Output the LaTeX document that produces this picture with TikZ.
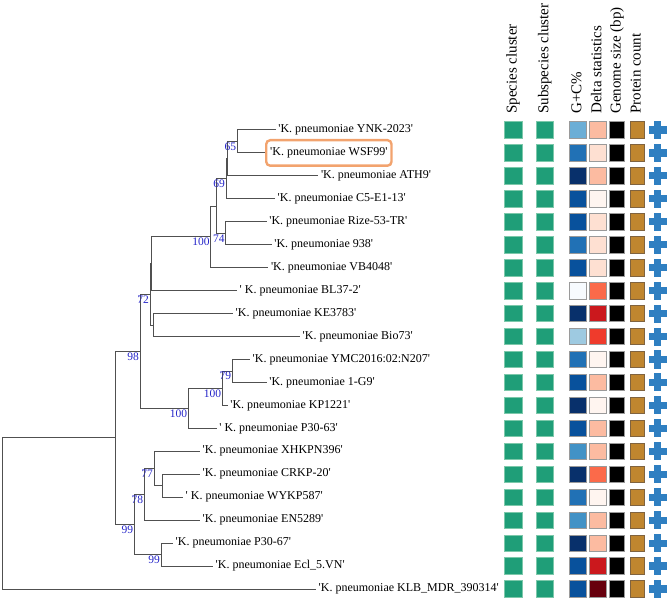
\documentclass[tikz,border=0pt]{standalone}
\usepackage{fontspec}
\setmainfont{Liberation Serif}
\newfontfamily\plainserif{Liberation Serif}
\usepackage{tikz}
\usetikzlibrary{positioning}
\definecolor{branchgray}{HTML}{505050}
\definecolor{bootblue}{HTML}{2323C8}
\definecolor{highlight}{HTML}{F2A36E}
\definecolor{clustergreen}{HTML}{1F9E78}
\definecolor{clusteredge}{HTML}{7CC8AA}
\definecolor{tilegray}{HTML}{9A9A9A}
\definecolor{protein}{HTML}{C0862F}
\definecolor{proteinedge}{HTML}{80633F}
\definecolor{plusblue}{HTML}{2F7FC1}
\definecolor{gcA}{HTML}{F7FBFF}
\definecolor{gcB}{HTML}{9ECAE1}
\definecolor{gcC}{HTML}{6BAED6}
\definecolor{gcD}{HTML}{4292C6}
\definecolor{gcE}{HTML}{2171B5}
\definecolor{gcF}{HTML}{08519C}
\definecolor{gcG}{HTML}{08306B}
\definecolor{dlA}{HTML}{FFF5F0}
\definecolor{dlB}{HTML}{FEE0D2}
\definecolor{dlC}{HTML}{FCBBA1}
\definecolor{dlD}{HTML}{FB6A4A}
\definecolor{dlE}{HTML}{EF3B2C}
\definecolor{dlF}{HTML}{CB181D}
\definecolor{dlG}{HTML}{67000D}
\tikzset{
	every edge/.style={
		draw=branchgray,
		line width=1pt},
	elbow/.style={to path={|- (\tikztotarget)}},
	leaf/.style={
		font=\plainserif\fontsize{12}{14}\selectfont,
		inner xsep=1pt},
	hlbox/.style={
		draw=highlight,
		line width=2.4pt,
		rounded corners=4pt,
		inner xsep=4pt,
		inner ysep=7.5pt},
	support/.style={
		font=\fontsize{11.5}{13}\selectfont,
		text=bootblue,
		inner sep=1pt,
		anchor=north east},
	header/.style={
		font=\fontsize{15}{17}\selectfont,
		rotate=90, anchor=west,
		inner sep=0pt,
		text height=10.5pt, text depth=3.2pt},
	tile/.style={
		minimum width=17.7pt, minimum height=16.5pt,
		inner sep=0pt, line width=0.7pt},
	cluster/.style={tile, fill=clustergreen, draw=clusteredge}
}
\begin{document}
\begin{tikzpicture}[x=1pt, y=-1pt]
\useasboundingbox (0,0) rectangle (669,601);

% leaf ends
\coordinate (ynk)   at (275.7,130);
\coordinate (wsf)   at (265,152.95);
\coordinate (ath)   at (318.3,175.9);
\coordinate (c5)    at (275,198.85);
\coordinate (rize)  at (266.7,221.8);
\coordinate (n938)  at (271.7,244.75);
\coordinate (vb)    at (268.3,267.7);
\coordinate (bl)    at (237,290.65);
\coordinate (ke)    at (233,313.6);
\coordinate (bio)   at (300,336.55);
\coordinate (ymc)   at (250,359.5);
\coordinate (g19)   at (266.7,382.45);
\coordinate (kp)    at (227.7,405.4);
\coordinate (p3063) at (216.7,428.35);
\coordinate (xh)    at (200,451.3);
\coordinate (crkp)  at (200,474.25);
\coordinate (wykp)  at (183,497.2);
\coordinate (en)    at (200,520.15);
\coordinate (p3067) at (173,543.1);
\coordinate (ecl)   at (213,566.05);
\coordinate (klb)   at (316,589);

% inner nodes
\coordinate (n65)   at (237.3,141.5);
\coordinate (nA)    at (227.3,158.7);
\coordinate (n69)   at (226,178.8);
\coordinate (n74)   at (225.7,233.3);
\coordinate (nB)    at (216,206.05);
\coordinate (n100a) at (210.7,236.9);
\coordinate (nC)    at (151.7,263.8);
\coordinate (nD)    at (153.5,325.1);
\coordinate (n72)   at (150,294.45);
\coordinate (n79)   at (232.3,371);
\coordinate (n100c) at (222.3,388.2);
\coordinate (n100b) at (188.3,408.3);
\coordinate (n98)   at (140,351.4);
\coordinate (nE)    at (162.3,485.7);
\coordinate (n77)   at (154,468.5);
\coordinate (n78)   at (144.3,494.3);
\coordinate (n99b)  at (161,554.6);
\coordinate (n99a)  at (134.3,524.45);
\coordinate (nF)    at (115,437.9);
\coordinate (root)  at (2,513.45);

\draw (n65) edge[elbow] (ynk) edge[elbow] (wsf);
\draw (nA) edge[elbow] (n65) edge[elbow] (ath);
\draw (n69) edge[elbow] (nA) edge[elbow] (c5);
\draw (n74) edge[elbow] (rize) edge[elbow] (n938);
\draw (nB) edge[elbow] (n69) edge[elbow] (n74);
\draw (n100a) edge[elbow] (nB) edge[elbow] (vb);
\draw (nC) edge[elbow] (n100a) edge[elbow] (bl);
\draw (nD) edge[elbow] (ke) edge[elbow] (bio);
\draw (n72) edge[elbow] (nC) edge[elbow] (nD);
\draw (n79) edge[elbow] (ymc) edge[elbow] (g19);
\draw (n100c) edge[elbow] (n79) edge[elbow] (kp);
\draw (n100b) edge[elbow] (n100c) edge[elbow] (p3063);
\draw (n98) edge[elbow] (n72) edge[elbow] (n100b);
\draw (nE) edge[elbow] (crkp) edge[elbow] (wykp);
\draw (n77) edge[elbow] (xh) edge[elbow] (nE);
\draw (n78) edge[elbow] (n77) edge[elbow] (en);
\draw (n99b) edge[elbow] (p3067) edge[elbow] (ecl);
\draw (n99a) edge[elbow] (n78) edge[elbow] (n99b);
\draw (nF) edge[elbow] (n98) edge[elbow] (n99a);
\draw (root) edge[elbow] (nF) edge[elbow] (klb);

\node[support] (b65)   at (n65)   {65};
\node[support] (b69)   at (n69)   {69};
\node[support] (b74)   at (n74)   {74};
\node[support] (b100a) at (n100a) {100};
\node[support] (b72)   at (n72)   {72};
\node[support] (b98)   at (n98)   {98};
\node[support] (b79)   at (n79)   {79};
\node[support] (b100c) at (n100c) {100};
\node[support] (b100b) at (n100b) {100};
\node[support] (b77)   at (n77)   {77};
\node[support] (b78)   at (n78)   {78};
\node[support] (b99a)  at (n99a)  {99};
\node[support] (b99b)  at (n99b)  {99};

\node[leaf, right=1.5pt of ynk]   (lynk)   {'K. pneumoniae YNK-2023'};
\node[leaf, hlbox, right=0pt of wsf] (lwsf) {'K. pneumoniae WSF99'};
\node[leaf, right=1.5pt of ath]   (lath)   {'K. pneumoniae ATH9'};
\node[leaf, right=1.5pt of c5]    (lc5)    {'K. pneumoniae C5-E1-13'};
\node[leaf, right=1.5pt of rize]  (lrize)  {'K. pneumoniae Rize-53-TR'};
\node[leaf, right=1.5pt of n938]  (l938)   {'K. pneumoniae 938'};
\node[leaf, right=1.5pt of vb]    (lvb)    {'K. pneumoniae VB4048'};
\node[leaf, right=1.5pt of bl]    (lbl)    {' K. pneumoniae BL37-2'};
\node[leaf, right=1.5pt of ke]    (lke)    {'K. pneumoniae KE3783'};
\node[leaf, right=1.5pt of bio]   (lbio)   {'K. pneumoniae Bio73'};
\node[leaf, right=1.5pt of ymc]   (lymc)   {'K. pneumoniae YMC2016:02:N207'};
\node[leaf, right=1.5pt of g19]   (lg19)   {'K. pneumoniae 1-G9'};
\node[leaf, right=1.5pt of kp]    (lkp)    {'K. pneumoniae KP1221'};
\node[leaf, right=1.5pt of p3063] (lp3063) {' K. pneumoniae P30-63'};
\node[leaf, right=1.5pt of xh]    (lxh)    {'K. pneumoniae XHKPN396'};
\node[leaf, right=1.5pt of crkp]  (lcrkp)  {'K. pneumoniae CRKP-20'};
\node[leaf, right=1.5pt of wykp]  (lwykp)  {' K. pneumoniae WYKP587'};
\node[leaf, right=1.5pt of en]    (len)    {'K. pneumoniae EN5289'};
\node[leaf, right=1.5pt of p3067] (lp3067) {'K. pneumoniae P30-67'};
\node[leaf, right=1.5pt of ecl]   (lecl)   {'K. pneumoniae Ecl\_5.VN'};
\node[leaf, right=1.5pt of klb]   (lklb)   {'K. pneumoniae KLB\_MDR\_390314'};

\node[header] (hsp) at (513,114)   {Species cluster};
\node[header] (hss) at (544.7,114) {Subspecies cluster};
\node[header] (hgc) at (577.7,114) {G+C\%};
\node[header] (hdl) at (597.8,114) {Delta statistics};
\node[header] (hgs) at (617,114)   {Genome size (bp)};
\node[header] (hpc) at (637,114)   {Protein count};

% annotation columns
\foreach \gc/\dl [count=\i from 0] in {gcC/dlC, gcE/dlB, gcG/dlC, gcF/dlA, gcF/dlB,
		gcE/dlB, gcF/dlB, gcA/dlD, gcG/dlF, gcB/dlE, gcE/dlA, gcF/dlC, gcG/dlA,
		gcF/dlC, gcD/dlC, gcG/dlD, gcE/dlA, gcD/dlC, gcG/dlC, gcF/dlF, gcF/dlG}{
	\pgfmathsetmacro{\yy}{130+22.95*\i}
	\node[cluster] (sp\i) at (513,\yy) {};
	\node[cluster] (ss\i) at (544.7,\yy) {};
	\node[tile, minimum width=16.7pt, fill=\gc, draw=tilegray] (gc\i) at (577.7,\yy) {};
	\node[tile, minimum width=17pt, fill=\dl, draw=tilegray] (dl\i) at (597.8,\yy) {};
	\node[tile, minimum width=15.4pt, fill=black, draw=tilegray] (gs\i) at (617,\yy) {};
	\node[tile, minimum width=14.2pt, fill=protein, draw=proteinedge] (pc\i) at (637,\yy) {};
	\fill[plusblue] (648.7,{\yy-3.6}) rectangle (666.7,{\yy+3.6});
	\fill[plusblue] (654.1,{\yy-9}) rectangle (661.3,{\yy+9});
}
\end{tikzpicture}
\end{document}
